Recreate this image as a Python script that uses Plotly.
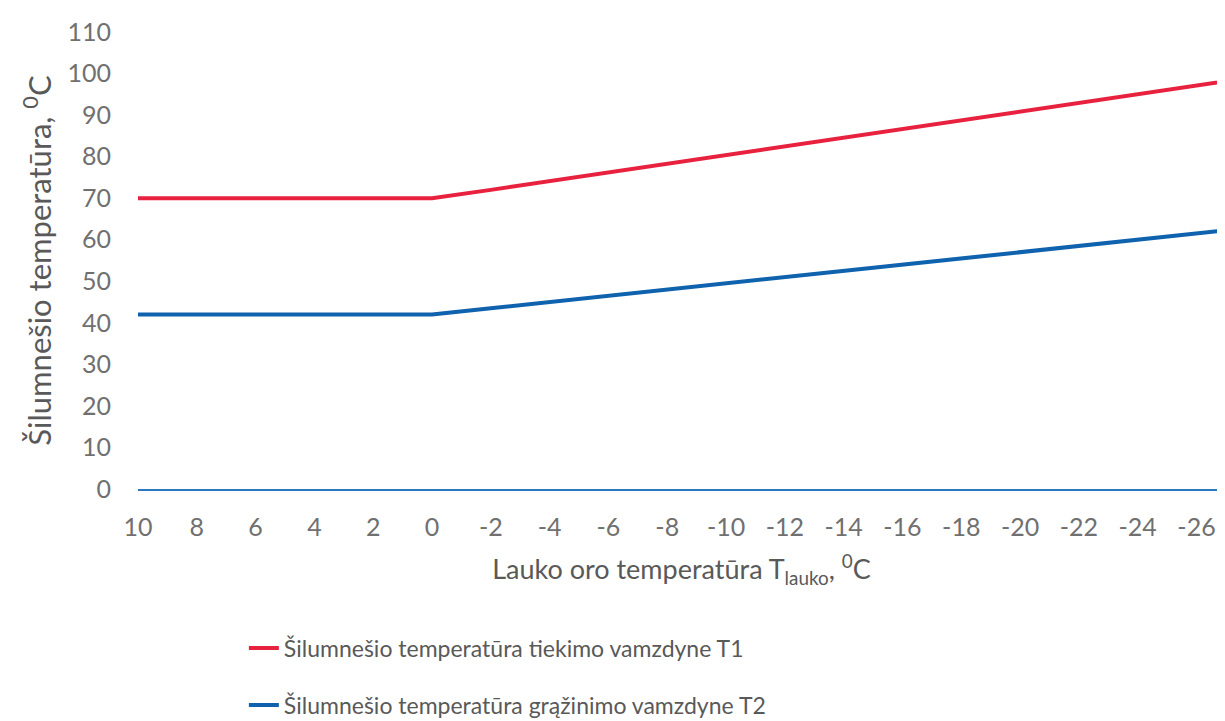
import plotly.graph_objects as go

outdoor_temp = [10, 8, 6, 4, 2, 0, -2, -4, -6, -8, -10, -12, -14, -16, -18, -20, -22, -24, -26, -28]
supply_T1 = [70, 70, 70, 70, 70, 70, 72.0, 74.1, 76.2, 78.3, 80.4, 82.5, 84.6, 86.6, 88.7, 90.8, 92.9, 95.0, 97.1, 99.2]
return_T2 = [42, 42, 42, 42, 42, 42, 43.5, 45.0, 46.5, 48.0, 49.5, 51.0, 52.5, 54.0, 55.5, 57.0, 58.5, 60.0, 61.5, 63.0]
name_T1 = "Šilumnešio temperatūra tiekimo vamzdyne T1"
name_T2 = "Šilumnešio temperatūra grąžinimo vamzdyne T2"
y_ticks = [0, 10, 20, 30, 40, 50, 60, 70, 80, 90, 100, 110]
x_ticks = [10, 8, 6, 4, 2, 0, -2, -4, -6, -8, -10, -12, -14, -16, -18, -20, -22, -24, -26]

FONT = "Lato"
TXT = "#595959"

fig = go.Figure()
fig.add_trace(go.Scatter(x=outdoor_temp, y=supply_T1, mode="lines", name=name_T1,
                         line=dict(color="#E8213F", width=4), legendgroup="a"))
fig.add_trace(go.Scatter(x=outdoor_temp, y=return_T2, mode="lines", name=name_T2,
                         line=dict(color="#0F62AE", width=4), legendgroup="b"))

fig.update_layout(
    width=1225, height=721,
    margin=dict(l=130, r=8, t=19, b=240),
    paper_bgcolor="white", plot_bgcolor="white",
    font=dict(family=FONT, color=TXT, size=25),
    showlegend=True,
    legend=dict(x=0.0974, xref="paper", y=0.142, yref="container", xanchor="left", yanchor="top",
                font=dict(size=23, color=TXT), tracegroupgap=24,
                bgcolor="rgba(0,0,0,0)", itemwidth=30),
    xaxis=dict(range=[10, -26.97], tickvals=x_ticks, ticktext=[str(v) for v in x_ticks],
               showgrid=False, zeroline=False, showline=True, linecolor="#2A78BE", linewidth=2,
               ticks="", tickfont=dict(size=25, color="#707070"), ticklabelstandoff=15,
               title=dict(text="Lauko oro temperatūra T<sub>lauko</sub>, <sup>0</sup>C",
                          font=dict(size=27, color=TXT), standoff=20)),
    yaxis=dict(range=[0, 110], tickvals=y_ticks, showgrid=False, zeroline=False, showline=False,
               ticks="", tickfont=dict(size=25, color="#707070"), ticklabelstandoff=26,
               title=dict(text="Šilumnešio temperatūra, <sup>0</sup>C",
                          font=dict(size=31, color=TXT), standoff=6)),
)

fig.write_html("out.html")
